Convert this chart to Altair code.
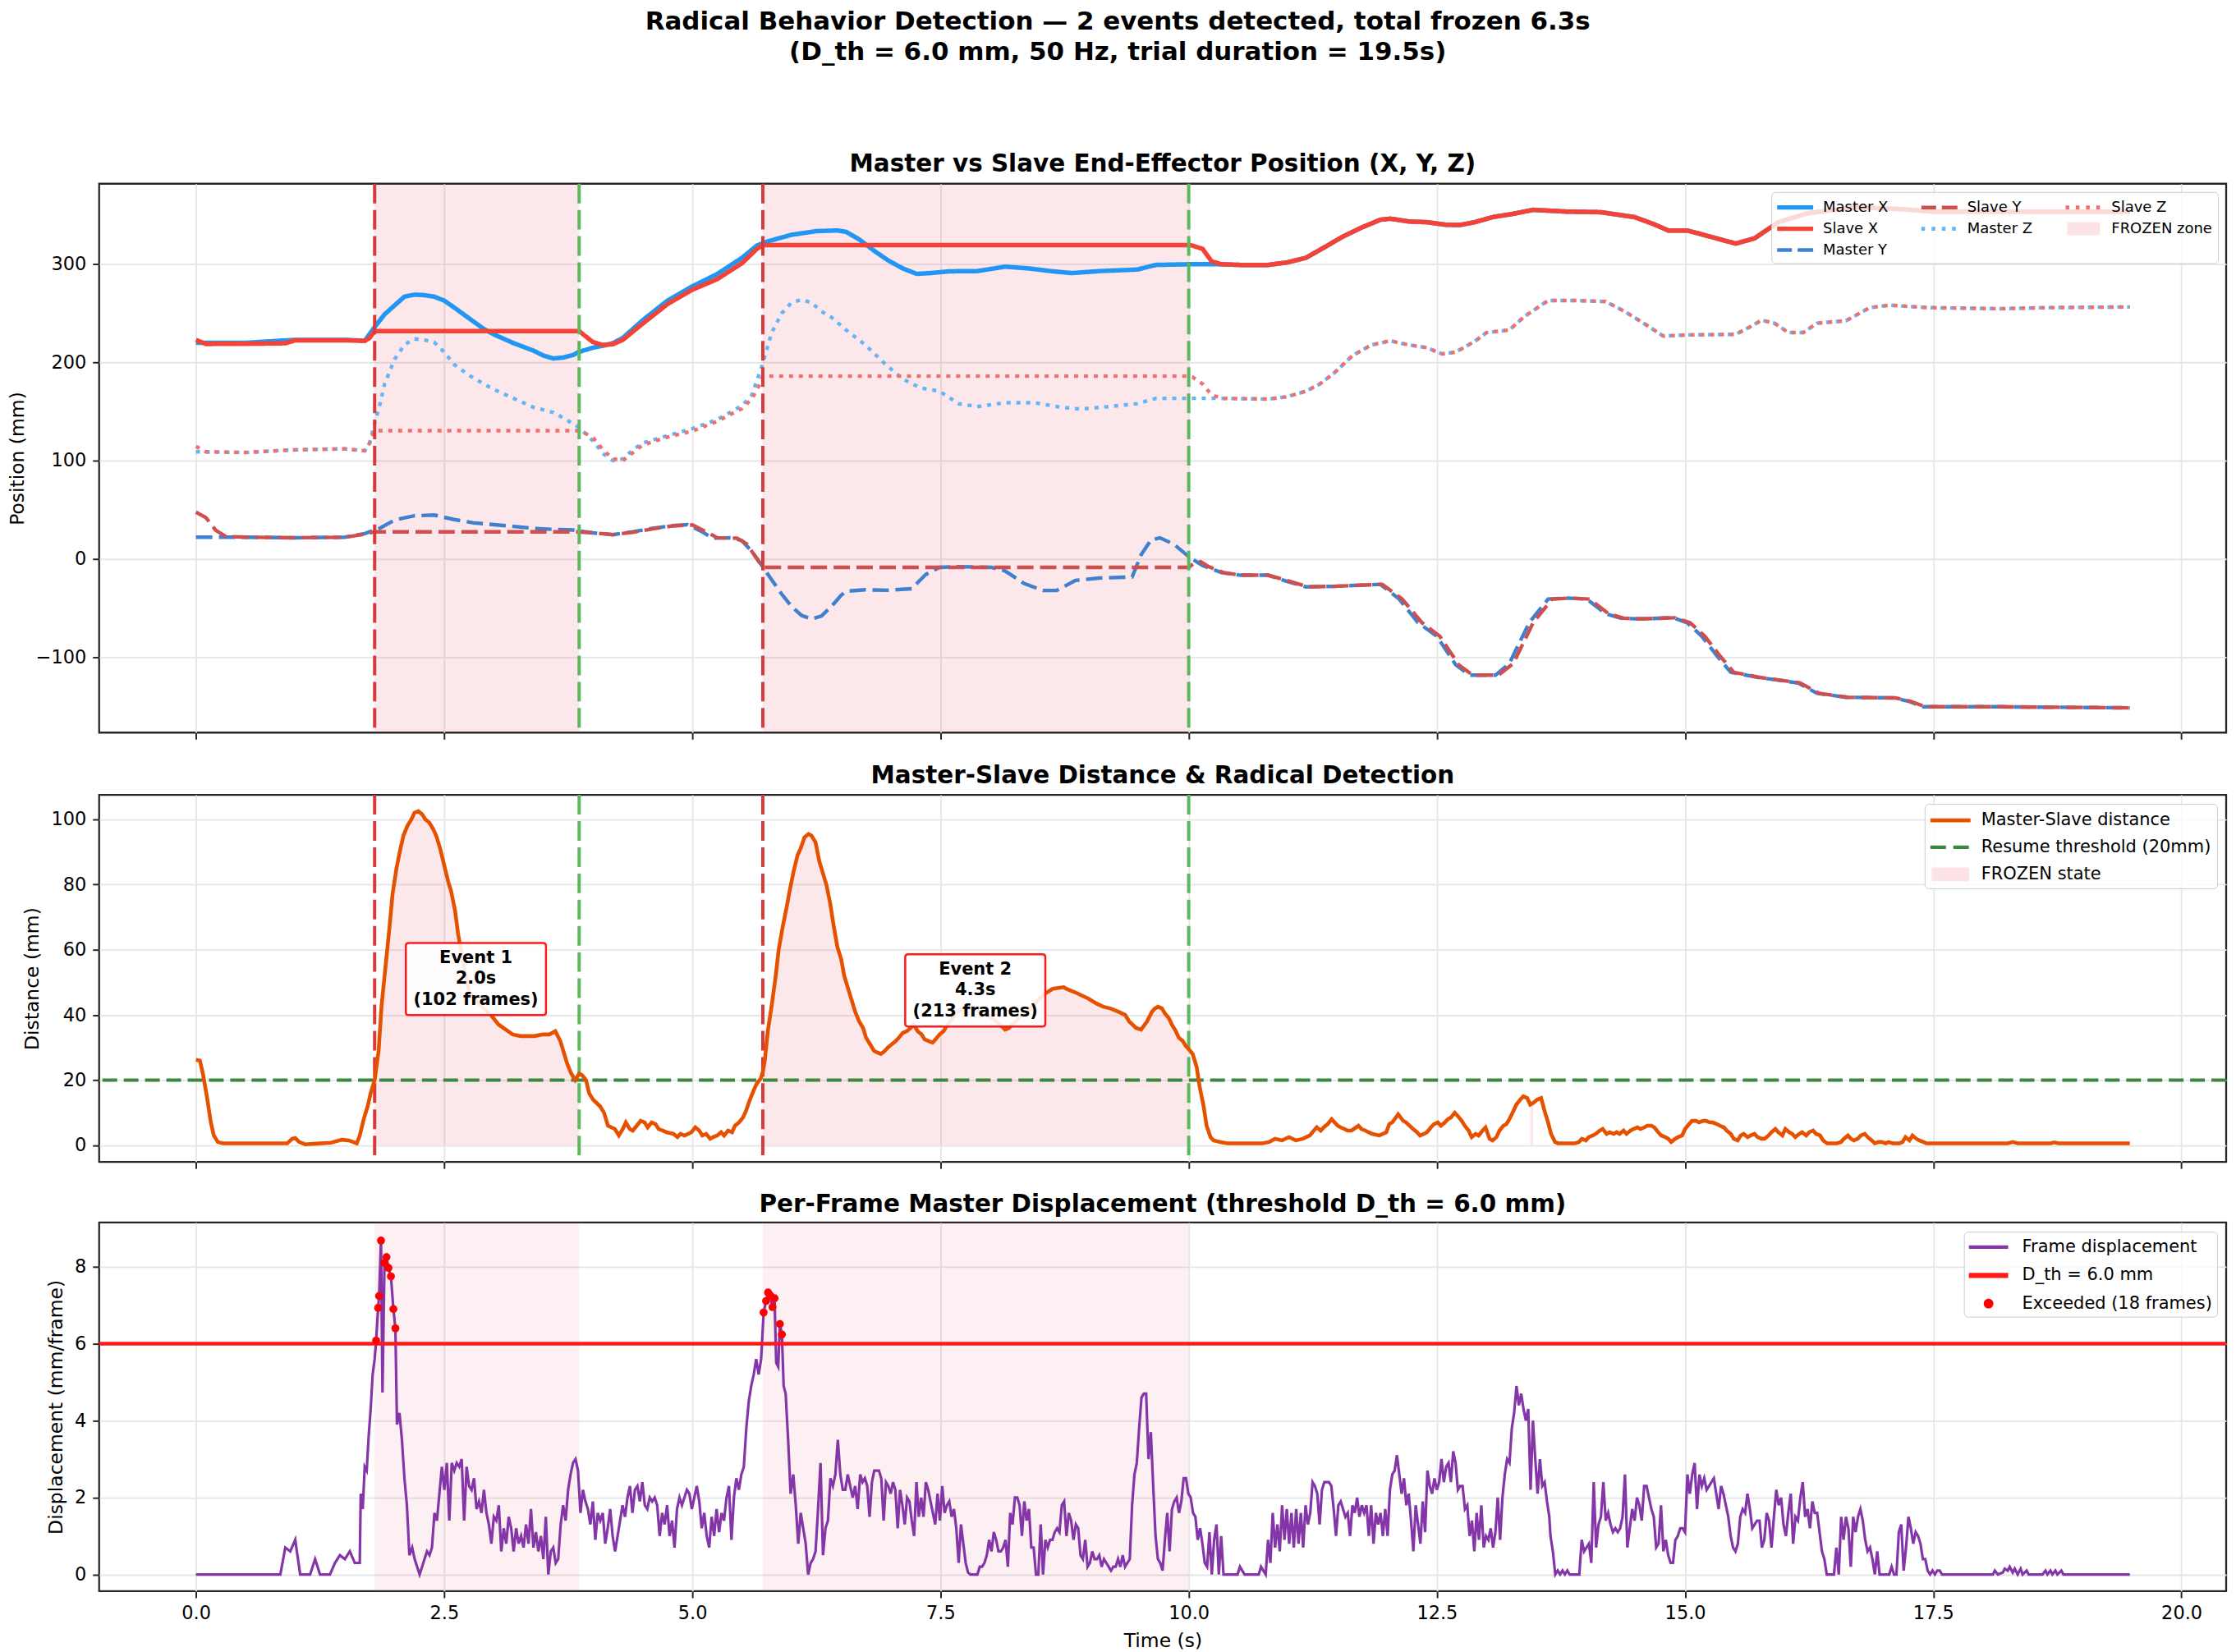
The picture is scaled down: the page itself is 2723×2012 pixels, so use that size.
import altair as alt
import pandas as pd

FONT = "DejaVu Sans"

MAIN_TITLE = ["Radical Behavior Detection \u2014 2 events detected, total frozen 6.3s",
              "(D_th = 6.0 mm, 50 Hz, trial duration = 19.5s)"]
TITLE_TOP = "Master vs Slave End-Effector Position (X, Y, Z)"
TITLE_MID = "Master-Slave Distance & Radical Detection"
TITLE_BOT = "Per-Frame Master Displacement (threshold D_th = 6.0 mm)"

X_TICKS = [0, 2.5, 5, 7.5, 10, 12.5, 15, 17.5, 20]
X_DOMAIN = [-0.975, 20.45]

EVENT_START = [1.80, 5.71]
EVENT_END = [3.86, 10.0]
MID_FROZEN_START = [1.80, 5.71, 13.44]
MID_FROZEN_END = [3.86, 10.0, 13.47]

RESUME_THRESHOLD = 20.0
D_TH = 6.0

EVENT_LABELS = ["Event 1\n2.0s\n(102 frames)", "Event 2\n4.3s\n(213 frames)"]
EVENT_LABEL_T = [2.82, 7.85]
EVENT_LABEL_V = [51.0, 47.5]

# ---------------- top panel: positions (t, mm) ----------------
MASTER_X = [(0, 220), (0.5, 220), (1.0, 223), (1.5, 223), (1.7, 222), (1.8, 236), (1.9, 249), (2.0, 258),
            (2.1, 267), (2.2, 269), (2.3, 268.5), (2.4, 267), (2.5, 263), (2.6, 256), (2.75, 245), (2.9, 234),
            (3.0, 228.6), (3.2, 219.6), (3.4, 212), (3.5, 207), (3.6, 204), (3.7, 205), (3.8, 207.6),
            (3.85, 210.5), (4.0, 215), (4.1, 217), (4.2, 219.6), (4.3, 225), (4.5, 243), (4.75, 263),
            (5.0, 277.5), (5.25, 290), (5.5, 306.5), (5.65, 319), (5.75, 323), (6.0, 330), (6.25, 333.7),
            (6.46, 334.4), (6.55, 333), (6.69, 324.6), (6.83, 313.8), (6.97, 304), (7.12, 295.7), (7.26, 290.2),
            (7.4, 291), (7.59, 292.8), (7.87, 293), (8.15, 297.5), (8.39, 295.7), (8.63, 292.8), (8.82, 291),
            (9.1, 293), (9.48, 294.6), (9.67, 299.3), (10.0, 300), (10.28, 300), (10.52, 299.3), (10.8, 299.3),
            (10.99, 301.8), (11.18, 306.5), (11.37, 317.4), (11.55, 328), (11.74, 337.3), (11.93, 345.3),
            (12.03, 346.4), (12.22, 343.5), (12.4, 342.8), (12.59, 340.2), (12.73, 339.9), (12.88, 342.8),
            (13.07, 348.2), (13.25, 351), (13.47, 355.4), (13.81, 353.6), (14.15, 353), (14.49, 348),
            (14.68, 341), (14.83, 334.4), (15.02, 334.4), (15.22, 329), (15.51, 321), (15.7, 326.4),
            (15.94, 342.8), (16.23, 351.8), (16.72, 358), (17.2, 356), (17.49, 353.6), (18.17, 353.6),
            (19.48, 353.6)]
SLAVE_X = [(0, 223), (0.1, 218.8), (0.5, 219), (0.9, 219.5), (1.0, 222.5), (1.5, 222.5), (1.7, 222),
           (1.75, 225), (1.8, 232), (3.86, 232), (3.9, 228.6), (4.0, 220.6), (4.1, 217.8), (4.2, 218.5),
           (4.3, 223), (4.5, 239.5), (4.75, 259.4), (5.0, 274), (5.25, 284.8), (5.5, 301), (5.65, 315.6),
           (5.71, 319.5), (10.02, 319.5), (10.14, 315.6), (10.23, 303), (10.33, 300), (10.52, 299.3),
           (10.8, 299.3), (10.99, 301.8), (11.18, 306.5), (11.37, 317.4), (11.55, 328), (11.74, 337.3),
           (11.93, 345.3), (12.03, 346.4), (12.22, 343.5), (12.4, 342.8), (12.59, 340.2), (12.73, 339.9),
           (12.88, 342.8), (13.07, 348.2), (13.25, 351), (13.47, 355.4), (13.81, 353.6), (14.15, 353),
           (14.49, 348), (14.68, 341), (14.83, 334.4), (15.02, 334.4), (15.22, 329), (15.51, 321),
           (15.7, 326.4), (15.94, 342.8), (16.23, 351.8), (16.72, 358), (17.2, 356), (17.49, 353.6),
           (18.17, 353.6), (19.48, 353.6)]
MASTER_Y = [(0, 22), (0.5, 22), (1.0, 21.4), (1.5, 22), (1.7, 25.7), (1.85, 31), (2.0, 39.5), (2.2, 43.8),
            (2.4, 44.6), (2.6, 40), (2.8, 36.6), (3.0, 34.8), (3.2, 33), (3.4, 31), (3.6, 30), (3.8, 29.3),
            (4.0, 26.4), (4.2, 24.6), (4.4, 27.5), (4.6, 31), (4.8, 33.7), (4.95, 34.8), (5.1, 27.5),
            (5.2, 21), (5.4, 21.4), (5.5, 18.5), (5.6, 7.6), (5.7, -6.9), (5.8, -21.4), (5.9, -35.9),
            (6.0, -48.6), (6.1, -57.6), (6.2, -61.2), (6.3, -58.3), (6.4, -48.6), (6.5, -37), (6.55, -33),
            (6.74, -31.5), (6.97, -32), (7.21, -30.4), (7.35, -16), (7.49, -8.7), (7.68, -8), (8.01, -8.7),
            (8.15, -12.3), (8.34, -25), (8.53, -32.2), (8.67, -32.2), (8.86, -22), (9.1, -19.6),
            (9.43, -18.5), (9.52, 4), (9.62, 19.2), (9.71, 21.4), (9.85, 14.9), (10.0, 2.2), (10.14, -6.9),
            (10.33, -14), (10.52, -16.7), (10.8, -16.7), (10.99, -23), (11.18, -28.6), (11.46, -28),
            (11.93, -26), (12.12, -41), (12.31, -65), (12.5, -79), (12.69, -108), (12.83, -118.5),
            (13.09, -118.5), (13.23, -106.5), (13.43, -65), (13.62, -41), (13.81, -40), (14.01, -41),
            (14.2, -56), (14.35, -60.5), (14.54, -61.2), (14.88, -60), (15.02, -65), (15.17, -79),
            (15.31, -97.5), (15.46, -115.6), (15.75, -121), (16.14, -126.4), (16.33, -137), (16.62, -141),
            (17.1, -141.7), (17.25, -145), (17.4, -150.7), (18.17, -150.7), (19.48, -151.8)]
SLAVE_Y = [(0, 47.5), (0.1, 42), (0.2, 29), (0.3, 22.8), (0.5, 22), (1.0, 21.4), (1.5, 22), (1.7, 25),
           (1.8, 27.5), (3.86, 27.5), (4.0, 26.4), (4.2, 24.6), (4.4, 27), (4.6, 30.5), (4.8, 33.5),
           (5.0, 34.5), (5.15, 27), (5.25, 21.5), (5.45, 21), (5.55, 15), (5.65, 0), (5.71, -8.7),
           (10.0, -8.7), (10.06, -4), (10.12, -3), (10.2, -8), (10.35, -14), (10.52, -16.7), (10.8, -16.7),
           (11.02, -23), (11.2, -28.6), (11.46, -28), (11.95, -26), (12.15, -41), (12.35, -65),
           (12.53, -79), (12.72, -108), (12.86, -118.5), (13.12, -118.5), (13.27, -106.5), (13.47, -65),
           (13.66, -41), (13.84, -40), (14.04, -41), (14.23, -56), (14.38, -60.5), (14.56, -61.2),
           (14.9, -60), (15.05, -65), (15.2, -79), (15.34, -97.5), (15.49, -115.6), (15.77, -121),
           (16.16, -126.4), (16.35, -137), (16.64, -141), (17.12, -141.7), (17.27, -145), (17.42, -150.7),
           (18.17, -150.7), (19.48, -151.8)]
MASTER_Z = [(0, 109), (0.5, 108.3), (1.0, 111), (1.5, 112), (1.7, 110), (1.75, 118), (1.8, 138),
            (1.85, 156), (1.9, 178), (2.0, 203), (2.1, 218), (2.2, 224), (2.3, 223), (2.4, 220.6),
            (2.5, 210.5), (2.6, 198), (2.75, 187), (2.9, 178), (3.0, 172.5), (3.2, 163.4), (3.4, 154.3),
            (3.6, 149), (3.7, 143.5), (3.85, 134.4), (4.0, 120), (4.1, 107.2), (4.2, 100), (4.3, 101.8),
            (4.4, 111), (4.5, 118), (4.75, 125.4), (5.0, 132.6), (5.25, 141.7), (5.5, 156), (5.6, 167),
            (5.7, 196), (5.8, 230.4), (5.9, 250), (6.0, 261), (6.1, 263.8), (6.2, 261), (6.3, 252),
            (6.4, 246), (6.55, 233), (6.74, 218), (6.93, 199.6), (7.12, 183), (7.3, 174), (7.49, 170.7),
            (7.68, 158), (7.87, 155), (8.15, 159), (8.44, 159), (8.72, 154.3), (8.91, 152.5), (9.19, 155),
            (9.48, 158), (9.67, 163.4), (10.0, 163.4), (10.33, 163.4), (10.8, 162.7), (10.99, 165),
            (11.18, 170.7), (11.32, 178), (11.46, 188.8), (11.65, 207), (11.84, 217.8), (12.03, 222),
            (12.22, 217.8), (12.4, 215), (12.55, 208.7), (12.69, 210.5), (12.88, 221.4), (13.0, 230.4),
            (13.23, 233), (13.38, 246.7), (13.62, 263), (13.91, 263), (14.2, 262), (14.39, 252),
            (14.59, 239.5), (14.78, 226.8), (15.02, 228), (15.51, 228.6), (15.65, 236), (15.77, 243),
            (15.9, 240), (16.04, 230.4), (16.19, 230.4), (16.33, 240), (16.62, 242.4), (16.86, 255.8),
            (17.06, 258.3), (17.44, 255.8), (18.17, 254.7), (18.65, 255.8), (19.48, 256.5)]
SLAVE_Z = [(0, 114.5), (0.1, 109), (0.5, 108.3), (1.0, 111), (1.5, 112), (1.7, 110), (1.75, 118),
           (1.8, 130.5), (3.86, 130.5), (3.9, 129), (4.0, 123.5), (4.1, 111), (4.2, 101.8), (4.3, 100),
           (4.4, 108), (4.5, 116), (4.75, 124), (5.0, 130), (5.25, 140), (5.5, 153), (5.6, 163),
           (5.68, 178), (5.71, 186), (10.0, 186), (10.04, 185), (10.14, 178), (10.23, 167), (10.33, 163.4),
           (10.8, 162.7), (10.99, 165), (11.18, 170.7), (11.32, 178), (11.46, 188.8), (11.65, 207),
           (11.84, 217.8), (12.03, 222), (12.22, 217.8), (12.4, 215), (12.55, 208.7), (12.69, 210.5),
           (12.88, 221.4), (13.0, 230.4), (13.23, 233), (13.38, 246.7), (13.62, 263), (13.91, 263),
           (14.2, 262), (14.39, 252), (14.59, 239.5), (14.78, 226.8), (15.02, 228), (15.51, 228.6),
           (15.65, 236), (15.77, 243), (15.9, 240), (16.04, 230.4), (16.19, 230.4), (16.33, 240),
           (16.62, 242.4), (16.86, 255.8), (17.06, 258.3), (17.44, 255.8), (18.17, 254.7), (18.65, 255.8),
           (19.48, 256.5)]

# ---------------- middle panel: master-slave distance (t, mm) ----------------
DISTANCE = [(0, 26.2), (0.04, 26), (0.07, 22), (0.11, 15), (0.15, 7), (0.18, 3), (0.22, 1), (0.27, 0.6),
            (0.5, 0.6), (0.92, 0.6), (0.97, 2.0), (1.0, 2.2), (1.04, 1.0), (1.1, 0.3), (1.21, 0.5),
            (1.36, 0.8), (1.47, 1.7), (1.54, 1.5), (1.62, 0.6), (1.65, 3), (1.69, 8), (1.73, 12), (1.76, 16),
            (1.8, 20), (1.84, 29), (1.87, 43), (1.91, 55), (1.95, 67), (1.98, 77), (2.02, 85), (2.06, 91),
            (2.09, 95), (2.13, 98), (2.17, 100), (2.2, 102), (2.24, 102.5), (2.28, 101.5), (2.31, 100),
            (2.35, 99), (2.39, 97), (2.42, 95), (2.46, 91), (2.5, 86), (2.54, 81), (2.57, 78), (2.61, 72),
            (2.64, 65), (2.68, 58), (2.72, 52), (2.75, 47), (2.83, 44), (2.9, 42), (2.97, 40), (3.05, 37),
            (3.12, 35.5), (3.19, 34), (3.27, 33.5), (3.34, 33.5), (3.41, 33.5), (3.49, 34), (3.56, 34),
            (3.62, 35), (3.67, 32), (3.71, 28), (3.74, 25), (3.78, 22), (3.82, 20), (3.86, 22),
            (3.89, 21.5), (3.93, 20), (3.96, 16), (4.0, 14), (4.07, 12), (4.11, 10), (4.15, 6), (4.22, 5),
            (4.26, 3), (4.3, 5), (4.33, 7), (4.37, 5), (4.4, 4.5), (4.44, 6), (4.48, 7.5), (4.52, 7),
            (4.55, 5.5), (4.59, 7), (4.63, 6.5), (4.66, 5), (4.7, 4.5), (4.74, 4), (4.81, 3.5), (4.85, 2.5),
            (4.88, 3.5), (4.92, 3), (4.96, 3.5), (4.99, 4), (5.03, 5.5), (5.07, 4.5), (5.1, 3), (5.14, 3.5),
            (5.18, 2), (5.21, 2.5), (5.25, 3), (5.29, 4), (5.32, 3), (5.36, 4.5), (5.4, 4), (5.43, 6),
            (5.47, 7), (5.51, 8.5), (5.54, 10.5), (5.58, 14), (5.62, 17), (5.65, 19), (5.69, 20.5),
            (5.71, 22.5), (5.73, 26), (5.76, 35), (5.8, 43), (5.84, 52), (5.87, 60), (5.91, 67), (5.95, 73),
            (5.98, 78), (6.02, 84), (6.06, 89), (6.09, 91), (6.13, 94.5), (6.17, 95.5), (6.2, 95),
            (6.24, 93), (6.28, 87), (6.31, 84), (6.35, 80), (6.39, 74), (6.42, 68), (6.46, 61), (6.5, 57),
            (6.53, 52), (6.57, 48), (6.61, 44), (6.64, 41), (6.68, 38), (6.72, 36), (6.75, 33), (6.79, 31),
            (6.83, 29), (6.86, 28.5), (6.9, 28), (6.94, 29), (6.97, 30), (7.01, 31), (7.05, 32), (7.08, 33),
            (7.12, 34.5), (7.16, 35), (7.2, 36), (7.23, 37), (7.27, 35), (7.31, 34), (7.34, 32.5), (7.38, 32),
            (7.42, 31.5), (7.45, 32.5), (7.49, 34), (7.53, 35), (7.56, 36.5), (7.6, 38), (7.64, 40),
            (7.67, 41), (7.75, 42), (7.82, 42), (7.89, 41), (7.97, 40), (8.04, 38.5), (8.1, 37), (8.15, 35.5),
            (8.19, 36), (8.26, 38), (8.33, 40.5), (8.41, 42), (8.48, 44.5), (8.55, 46.5), (8.63, 48),
            (8.74, 48.5), (8.77, 48), (8.85, 47), (8.92, 46), (8.99, 45), (9.07, 43.5), (9.14, 42.5),
            (9.21, 42), (9.29, 41), (9.36, 40), (9.4, 38), (9.47, 36), (9.52, 35.5), (9.58, 38), (9.63, 41),
            (9.66, 42), (9.69, 42.5), (9.73, 42), (9.76, 40.5), (9.8, 39), (9.83, 37), (9.87, 35), (9.9, 33),
            (9.94, 32), (9.97, 30.5), (10.0, 29.5), (10.04, 28), (10.08, 24), (10.11, 18), (10.15, 12),
            (10.18, 6), (10.22, 2.5), (10.25, 1.5), (10.32, 1), (10.39, 0.6), (10.74, 0.6), (10.81, 1.0),
            (10.87, 2.0), (10.94, 1.5), (11.01, 2.5), (11.08, 1.5), (11.15, 2.0), (11.22, 3.0), (11.26, 4.5),
            (11.29, 5.5), (11.33, 4.5), (11.36, 5.5), (11.4, 6.5), (11.44, 8), (11.5, 6), (11.53, 5.5),
            (11.57, 5), (11.6, 4.5), (11.64, 4.5), (11.71, 6), (11.74, 5), (11.78, 4.5), (11.81, 4),
            (11.85, 3.5), (11.92, 3), (11.99, 4), (12.02, 6.5), (12.05, 7), (12.11, 9.5), (12.16, 7.5),
            (12.19, 7), (12.26, 5), (12.3, 4), (12.33, 3), (12.37, 3.5), (12.4, 4), (12.44, 5.5),
            (12.47, 6.5), (12.51, 7), (12.54, 6), (12.58, 7), (12.61, 8), (12.64, 8.5), (12.68, 10),
            (12.71, 9), (12.75, 7.5), (12.78, 6), (12.82, 4.5), (12.85, 2.5), (12.89, 3.5), (12.92, 3),
            (12.96, 4.5), (12.99, 5.5), (13.03, 2), (13.06, 1.5), (13.1, 2.5), (13.13, 4.5), (13.17, 6),
            (13.2, 6.5), (13.23, 8), (13.27, 10.5), (13.3, 12.5), (13.34, 14), (13.37, 15), (13.41, 14.5),
            (13.44, 12.5), (13.47, 13), (13.51, 14), (13.55, 14.5), (13.58, 11), (13.62, 7), (13.65, 3.5),
            (13.69, 1), (13.72, 0.6), (13.89, 0.6), (13.93, 1), (13.96, 2), (14.0, 1.5), (14.03, 2.5),
            (14.07, 3), (14.1, 3.5), (14.14, 4.5), (14.17, 5), (14.21, 3.5), (14.24, 4), (14.28, 3.5),
            (14.31, 4), (14.34, 3.5), (14.38, 4.5), (14.41, 3.5), (14.45, 4.5), (14.48, 5), (14.52, 5.5),
            (14.55, 5), (14.59, 5.5), (14.62, 6), (14.66, 6), (14.69, 5.5), (14.73, 4), (14.76, 3),
            (14.8, 2.5), (14.83, 2), (14.86, 1), (14.9, 2), (14.93, 2.5), (14.97, 3), (15.0, 5), (15.04, 6.5),
            (15.07, 7.5), (15.11, 7.5), (15.14, 7), (15.18, 7.5), (15.21, 7.5), (15.25, 7), (15.28, 7),
            (15.32, 6.5), (15.35, 6), (15.39, 5.5), (15.42, 4.5), (15.46, 3.5), (15.49, 2), (15.53, 1.5),
            (15.56, 3), (15.59, 3.5), (15.63, 2.5), (15.66, 3), (15.7, 3.5), (15.73, 2.5), (15.77, 2),
            (15.8, 2), (15.84, 3), (15.87, 4), (15.91, 5), (15.94, 4), (15.98, 3), (16.01, 5), (16.05, 4),
            (16.08, 3.5), (16.11, 2.5), (16.15, 3.5), (16.18, 4), (16.22, 3), (16.25, 4), (16.29, 4.5),
            (16.32, 3.5), (16.36, 3), (16.39, 1.5), (16.43, 0.6), (16.53, 0.6), (16.57, 1), (16.6, 2),
            (16.64, 3), (16.67, 2), (16.7, 1.5), (16.74, 2), (16.77, 3), (16.81, 3.5), (16.84, 2.5),
            (16.88, 1.5), (16.91, 0.6), (16.95, 1), (16.98, 1), (17.02, 0.6), (17.05, 1), (17.09, 0.6),
            (17.16, 0.6), (17.19, 1), (17.22, 2.5), (17.26, 1.5), (17.29, 3), (17.33, 2), (17.36, 1.5),
            (17.4, 1), (17.43, 0.6), (18.25, 0.6), (18.3, 1.0), (18.35, 0.6), (18.68, 0.6), (18.72, 0.9),
            (18.76, 0.6), (19.48, 0.6)]

# ---------------- bottom panel: per-frame displacement (mm/frame) ----------------
DISP_A_START, DISP_A_STEP = 0.0, 0.05
DISP_A = [0, 0, 0, 0, 0, 0, 0, 0, 0, 0, 0, 0, 0, 0, 0, 0, 0, 0,
          0.7, 0.6, 0.9, 0.0, 0.0, 0.0, 0.4, 0.0, 0.0, 0.0, 0.3, 0.5, 0.4, 0.6, 0.3, 0.3]
DISP_PEAK1 = [(1.66, 2.1), (1.68, 1.7), (1.70, 2.8), (1.72, 2.7), (1.74, 3.6), (1.76, 4.3), (1.78, 5.2),
              (1.80, 5.6), (1.815, 6.08), (1.835, 6.93), (1.845, 7.24), (1.864, 8.68), (1.879, 4.73),
              (1.899, 8.1), (1.919, 8.25), (1.939, 7.97), (1.964, 7.75), (1.989, 6.9), (2.009, 6.4),
              (2.025, 3.9), (2.05, 4.2), (2.075, 3.5), (2.10, 2.5), (2.125, 1.8), (2.15, 0.5)]
DISP_C_START, DISP_C_STEP = 2.178, 0.02493
DISP_C = [0.7, 0.4, 0.2, 0.0, 0.2, 0.4, 0.6, 0.5, 0.7, 1.6,
          1.4, 2.1, 2.8, 2.2, 2.9, 1.4, 2.9, 2.7, 2.9, 2.8,
          3.0, 1.4, 2.8, 2.3, 2.2, 2.5, 1.7, 1.9, 1.6, 2.2,
          1.6, 1.3, 0.8, 1.5, 1.4, 1.8, 0.6, 1.2, 0.8, 1.5,
          1.2, 0.6, 1.2, 0.8, 1.0, 0.7, 1.3, 0.8, 1.7, 0.7,
          1.1, 0.6, 1.0, 0.4, 1.5, 0.0, 0.6, 0.7, 0.3, 0.4,
          1.3, 1.8, 1.4, 2.2, 2.6, 2.9, 3.0, 2.7, 1.6, 2.2,
          1.9, 1.7, 1.3, 1.9, 0.9, 1.6, 1.4, 1.6, 0.8, 1.2,
          1.7, 1.0, 0.6, 1.0, 1.4, 1.8, 1.5, 2.0, 2.3, 1.6,
          2.2, 2.3, 1.9, 2.4, 1.8, 1.7, 2.0, 1.9, 2.0, 1.8,
          1.0, 1.6, 1.3, 1.8, 1.0, 1.4, 0.7, 1.7, 2.0, 1.8,
          2.0, 2.2, 2.1, 1.7, 2.0, 2.3, 1.9, 1.2, 1.6, 1.0,
          0.7, 1.5, 1.0, 1.7, 1.1, 1.6, 1.4, 2.0, 2.3, 0.9,
          2.0, 2.5, 2.2, 2.6, 2.8, 3.8, 4.5, 4.9, 5.2, 5.6,
          5.2, 5.6]
DISP_PEAK2 = [(5.718, 6.81), (5.743, 7.11), (5.763, 7.33), (5.783, 7.26), (5.808, 6.95), (5.828, 7.18),
              (5.845, 5.5), (5.865, 5.4), (5.882, 6.51), (5.902, 6.24), (5.92, 4.9), (5.94, 4.7),
              (5.965, 3.5), (5.99, 2.1)]
DISP_E_START, DISP_E_STEP = 6.017, 0.02493
DISP_E = [2.6, 1.8, 0.8, 1.6, 1.2, 0.8, 0.0, 0.3, 0.4, 0.6,
          1.7, 2.9, 0.5, 1.2, 1.4, 2.5, 2.3, 2.6, 3.5, 2.6,
          2.2, 2.2, 2.6, 2.3, 2.0, 2.3, 1.7]
DISP_F_START, DISP_F_STEP = 6.691, 0.02361
DISP_F = [2.6, 2.4, 2.5, 2.3, 1.5, 2.4, 2.7, 2.7, 2.7, 2.5,
          1.4, 2.4, 2.3, 2.1, 2.4, 2.2, 1.2, 2.2, 1.8, 1.3,
          2.0, 1.9, 1.4, 1.0, 2.4, 1.5, 2.0, 1.5, 2.4, 2.2,
          1.9, 1.6, 1.3, 2.1, 1.4, 2.3, 1.6, 1.8, 1.9, 1.5,
          1.7, 1.2, 0.3, 1.3, 0.8, 0.3, 0.05, 0.0, 0.0, 0.0,
          0.0, 0.2, 0.2, 0.3, 0.5, 0.9, 0.6, 1.1, 0.9, 0.6,
          0.6, 0.7, 0.9, 0.2, 1.6, 1.3, 2.0, 2.0, 1.8, 1.0,
          1.9, 1.4, 1.7, 0.7, 0.7, 0.0, 0.0, 1.3, 0.0, 0.9,
          0.7, 0.9, 0.9, 1.1, 1.2, 1.1, 1.8, 1.9, 1.0, 1.6,
          1.4, 0.9, 1.3, 1.2, 0.5, 0.4, 0.9, 0.2, 0.3, 0.6,
          0.4, 0.4, 0.5, 0.2, 0.4, 0.3, 0.2, 0.1, 0.2, 0.2,
          0.4, 0.2, 0.5, 0.2, 0.3, 0.4, 1.8, 2.6, 2.9, 3.8,
          4.6, 4.7, 4.7, 3.0, 3.7, 2.3, 1.0, 0.4, 0.3, 0.1,
          0.9, 1.6, 0.6, 1.7, 1.9, 2.0, 1.6, 1.9, 2.5, 2.5,
          2.1, 2.0, 1.6, 1.5, 0.9, 1.2, 0.8, 0.3, 0.2, 1.1,
          0.0, 0.9, 1.3, 0.0, 1.0, 0.0, 0.0, 0.0, 0.0, 0.0,
          0.0, 0.0, 0.2, 0.1, 0.0, 0.0, 0.0, 0.0, 0.0, 0.0,
          0.0, 0.2, 0.1, 0.0, 0.9, 0.3, 1.6, 0.7, 1.3, 0.6,
          1.8, 0.9, 1.7, 0.8, 1.6, 0.7, 1.7, 0.8, 1.6, 0.7,
          1.8, 1.3, 1.6, 2.4, 2.3, 2.1, 1.3, 2.2, 2.4, 2.4,
          2.4, 2.3, 1.7, 1.0, 1.8, 1.9, 1.7, 1.5, 1.6, 1.0,
          1.8, 1.6, 2.0, 1.5, 1.8, 1.6, 1.8, 1.0, 1.8, 0.8,
          1.6, 1.3, 1.6, 1.0, 1.7, 1.0, 2.2, 2.6, 2.7, 3.1,
          2.6, 2.1, 2.5, 1.8, 2.1, 1.4, 0.6, 1.8, 1.3, 0.8,
          1.9, 1.1, 2.7, 2.3, 2.1, 2.5, 2.2, 2.4, 3.0, 2.4,
          2.8, 2.9, 2.4, 3.2, 2.9, 2.2, 2.3, 2.3, 1.7, 1.8,
          1.0, 1.4, 0.6, 1.6, 0.9, 1.8, 0.7, 1.0, 0.9, 1.2,
          0.7, 1.1, 2.0, 0.9, 2.0, 2.6, 3.0, 2.9, 3.8, 4.2,
          4.9, 4.4, 4.7, 4.3, 4.0, 4.3, 2.2, 4.0, 3.0, 2.1,
          3.0, 2.3, 2.4, 1.9, 1.5]
DISP_G_START, DISP_G_STEP = 13.644, 0.0242
DISP_G = [1.0, 0.6, 0.0, 0.1, 0.0, 0.1, 0.0, 0.1, 0.0, 0.0,
          0.0, 0.0, 0.0, 0.9, 0.6, 0.7, 0.8, 0.3, 2.4, 0.7,
          1.3, 1.5, 2.4, 1.4, 1.6, 1.3, 1.1, 1.2, 1.1, 1.2,
          1.5, 2.6, 0.7, 1.2, 1.7, 1.4, 2.0, 1.8, 1.4, 2.3,
          2.3, 2.0, 1.7, 1.5, 0.7, 0.8, 1.8, 0.6, 0.9, 0.5,
          0.3, 0.3, 0.9, 1.0, 1.2, 1.2, 1.1, 2.6, 2.1, 2.6,
          2.9, 1.7, 2.6, 2.3, 2.5, 2.2, 2.3, 2.4, 2.5, 2.1,
          1.7, 2.3, 2.1, 1.8, 1.5, 1.0, 0.7, 0.6, 0.8, 1.5,
          1.7, 1.6, 2.1, 1.7, 1.2, 1.3, 1.4, 1.4, 0.7, 0.9,
          1.6, 1.4, 0.7, 1.5, 2.2, 1.8, 2.0, 1.3, 1.0, 1.6,
          2.1, 0.8, 1.5, 1.4, 2.0, 2.4, 1.5, 1.7, 1.2, 1.9,
          1.6, 1.6, 1.1, 0.6, 0.4, 0.0, 0.0, 0.0, 0.0, 0.7,
          0.0, 1.5, 0.9, 1.5, 1.2, 0.2, 1.5, 1.1, 1.5, 1.7,
          1.4, 0.9, 0.6, 0.7, 0.4, 0.0, 0.6, 0.0, 0.0, 0.0,
          0.0, 0.0, 0.2, 0.0, 0.0, 1.1, 1.3, 0.1, 0.7, 1.5,
          1.2, 0.8, 1.1, 1.0, 0.8, 0.4, 0.4, 0.1, 0.0, 0.1,
          0.0, 0.1, 0.1, 0.0]
DISP_TAIL = [(17.62, 0), (18.1, 0), (18.12, 0.1), (18.15, 0), (18.2, 0.05), (18.22, 0.15), (18.25, 0.1),
             (18.27, 0.2), (18.3, 0.05), (18.32, 0.15), (18.35, 0), (18.38, 0.15), (18.4, 0), (18.44, 0.1),
             (18.46, 0), (18.6, 0), (18.63, 0.1), (18.65, 0), (18.68, 0.1), (18.7, 0), (18.73, 0.1),
             (18.75, 0), (18.79, 0.1), (18.81, 0), (19.48, 0)]

# ---------------- styles ----------------
C_MX, C_SX = "#2196F3", "#F44336"
C_MY, C_SY = "#3F81CF", "#CF4F4F"
C_MZ, C_SZ = "#64B5F6", "#F07070"
C_START, C_END = "#d63a3a", "#5cb85c"
C_FROZEN = "#e8384f"
C_PATCH = "#fde3e7"
C_DIST, C_THR = "#E65100", "#3a873d"
C_DISP, C_DTH = "#8436a8", "#ff1919"

W = 2596
H_TOP, H_MID, H_BOT = 670, 448, 450


def rect_px(x0, x1, hh, s):
    """legend symbol piece, in pixels from the entry's left edge, for a symbol of nominal size s*s"""
    u = s / 2.0
    a, b, h = (x0 - u) / u, (x1 - u) / u, hh / u
    return f"M{a:.3f},{-h:.3f}H{b:.3f}V{h:.3f}H{a:.3f}Z"


def dot_px(cx, r, s):
    u = s / 2.0
    c, rr = (cx - u) / u, r / u
    return f"M{c - rr:.3f},0A{rr:.3f},{rr:.3f} 0 1,0 {c + rr:.3f},0A{rr:.3f},{rr:.3f} 0 1,0 {c - rr:.3f},0Z"


S_TOP, S_MID, S_BOT = 24, 26, 26
SOLID_T = rect_px(0, 44, 2.7, S_TOP)
DASH_T = rect_px(0, 18, 2.3, S_TOP) + rect_px(25, 44, 2.3, S_TOP)
DOT_T = (rect_px(0, 4.5, 2.4, S_TOP) + rect_px(12.5, 17, 2.4, S_TOP) +
         rect_px(25, 29.5, 2.4, S_TOP) + rect_px(37.5, 42, 2.4, S_TOP))
PATCH_T = rect_px(2, 42, 8, S_TOP)
SOLID_M = rect_px(0, 49, 2.4, S_MID)
DASH_M = rect_px(0, 19, 2.1, S_MID) + rect_px(28, 47, 2.1, S_MID)
PATCH_M = rect_px(1.5, 47.5, 8.5, S_MID)
SOLID_B = rect_px(0, 48, 2.2, S_BOT)
THICK_B = rect_px(0, 48, 3.1, S_BOT)
DOT_B = dot_px(24, 5.9, S_BOT)
BOX_PATH = ("M-0.96,-0.515L0.96,-0.515Q1,-0.515 1,-0.475L1,0.475Q1,0.515 0.96,0.515"
            "L-0.96,0.515Q-1,0.515 -1,0.475L-1,-0.475Q-1,-0.515 -0.96,-0.515Z")

# ---------------- tables ----------------
def pairs_df(pairs):
    return pd.DataFrame(pairs, columns=["t", "v"])


def block(start, step, values):
    return [(round(start + i * step, 4), v) for i, v in enumerate(values)]


disp_rows = (block(DISP_A_START, DISP_A_STEP, DISP_A) + DISP_PEAK1 +
             block(DISP_C_START, DISP_C_STEP, DISP_C) + DISP_PEAK2 +
             block(DISP_E_START, DISP_E_STEP, DISP_E) + block(DISP_F_START, DISP_F_STEP, DISP_F) +
             block(DISP_G_START, DISP_G_STEP, DISP_G) + DISP_TAIL)
disp_df = pairs_df(disp_rows).sort_values("t")
exceed_df = disp_df[disp_df["v"] > D_TH]

dist_df = pairs_df(DISTANCE)
area_rows = []
for k, (s, e) in enumerate(zip(MID_FROZEN_START, MID_FROZEN_END)):
    for t, v in DISTANCE:
        if s <= t <= e:
            area_rows.append({"t": t, "v": v, "ev": k})
area_df = pd.DataFrame(area_rows)

events_df = pd.DataFrame({"start": EVENT_START, "end": EVENT_END})
starts_df = pd.DataFrame({"t": EVENT_START})
ends_df = pd.DataFrame({"t": EVENT_END})
labels_df = pd.DataFrame({"t": EVENT_LABEL_T, "v": EVENT_LABEL_V, "label": EVENT_LABELS})

x_scale = alt.Scale(domain=X_DOMAIN, nice=False, zero=False)


def xenc(field, labels, title=None):
    return alt.X(field, scale=x_scale, title=title,
                 axis=alt.Axis(values=X_TICKS, format=".1f", labels=labels, grid=True))


def yenc(domain, values, title):
    return alt.Y("v:Q", scale=alt.Scale(domain=domain, nice=False, zero=False), title=title,
                 axis=alt.Axis(values=values, format="d", grid=True))


def legend_layer(field, names, colors, shapes, sym, **legend_kwargs):
    size = sym * sym
    leg = alt.Legend(title=None, labelFont=FONT, labelColor="#000000", symbolSize=size,
                     symbolStrokeWidth=0, fillColor="rgba(255,255,255,0.8)", strokeColor="#cccccc",
                     cornerRadius=5, labelLimit=0, **legend_kwargs)
    df = pd.DataFrame({field: names})
    return alt.Chart(df).transform_filter("false").mark_point(
        filled=True, opacity=1, size=size, strokeWidth=0).encode(
        color=alt.Color(f"{field}:N", scale=alt.Scale(domain=names, range=colors), legend=leg),
        shape=alt.Shape(f"{field}:N", scale=alt.Scale(domain=names, range=shapes), legend=leg),
    )


def sub_title(text):
    return alt.TitleParams(text=text, font=FONT, fontSize=29.5, fontWeight="bold", color="#000000",
                           anchor="middle", frame="group", offset=6)


# ---------------- top panel ----------------
TOP_Y = [-177, 382]
TOP_TICKS = [-100, 0, 100, 200, 300]


def top_line(pairs, color, width, dash):
    return alt.Chart(pairs_df(pairs)).mark_line(color=color, strokeWidth=width, strokeDash=dash).encode(
        x=xenc("t:Q", False), y=yenc(TOP_Y, TOP_TICKS, "Position (mm)"))


top_frozen = alt.Chart(events_df).mark_rect(color=C_FROZEN, opacity=0.12).encode(
    x=xenc("start:Q", False), x2="end:Q")
top_starts = alt.Chart(starts_df).mark_rule(color=C_START, strokeWidth=4, strokeDash=[24, 8]).encode(
    x=xenc("t:Q", False))
top_ends = alt.Chart(ends_df).mark_rule(color=C_END, strokeWidth=4, strokeDash=[24, 8]).encode(
    x=xenc("t:Q", False))

# the legend grid is filled column by column (3 rows); this order gives the rows
# (Master X, Slave Y, Slave Z), (Slave X, Master Z, FROZEN zone), (Master Y)
TOP_LEG_NAMES = ["Master X", "Slave X", "FROZEN zone", "Slave Y", "Master Z", "Master Y", "Slave Z"]
TOP_LEG_COLORS = [C_MX, C_SX, C_PATCH, C_SY, C_MZ, C_MY, C_SZ]
TOP_LEG_SHAPES = [SOLID_T, SOLID_T, PATCH_T, DASH_T, DOT_T, DASH_T, DOT_T]

top = alt.layer(
    top_frozen,
    top_line(MASTER_X, C_MX, 5.5, [1, 0]),
    top_line(SLAVE_X, C_SX, 5.5, [1, 0]),
    top_line(MASTER_Y, C_MY, 4.4, [20, 8]),
    top_line(SLAVE_Y, C_SY, 4.4, [20, 8]),
    top_line(MASTER_Z, C_MZ, 4.4, [5, 7]),
    top_line(SLAVE_Z, C_SZ, 4.4, [5, 7]),
    top_starts, top_ends,
    legend_layer("top_series", TOP_LEG_NAMES, TOP_LEG_COLORS, TOP_LEG_SHAPES, S_TOP,
                 orient="top-right", offset=10, columns=3, labelFontSize=18, padding=7,
                 rowPadding=5, columnPadding=40, labelOffset=44 + 12 - S_TOP),
).properties(width=W, height=H_TOP, title=sub_title(TITLE_TOP))

# ---------------- middle panel ----------------
MID_Y = [-5.1, 107.5]
MID_TICKS = [0, 20, 40, 60, 80, 100]
mid_y = yenc(MID_Y, MID_TICKS, "Distance (mm)")

mid_area = alt.Chart(area_df).mark_area(color=C_FROZEN, opacity=0.12).encode(
    x=xenc("t:Q", False), y=mid_y, y2=alt.datum(0), detail="ev:N")
mid_thr = alt.Chart(pd.DataFrame({"v": [RESUME_THRESHOLD]})).mark_rule(
    color=C_THR, strokeWidth=4, strokeDash=[18, 8]).encode(y=mid_y)
mid_starts = alt.Chart(starts_df).mark_rule(color=C_START, strokeWidth=4, strokeDash=[24, 8]).encode(
    x=xenc("t:Q", False))
mid_ends = alt.Chart(ends_df).mark_rule(color=C_END, strokeWidth=4, strokeDash=[24, 8]).encode(
    x=xenc("t:Q", False))
mid_line = alt.Chart(dist_df).mark_line(color=C_DIST, strokeWidth=4.6).encode(
    x=xenc("t:Q", False), y=mid_y)
mid_boxes = alt.Chart(labels_df).mark_point(
    shape=BOX_PATH, size=171 * 171, filled=True, fill="white", fillOpacity=0.88,
    stroke="#ff1a1a", strokeWidth=2.5, opacity=1).encode(x=xenc("t:Q", False), y=mid_y)
mid_text = alt.Chart(labels_df).mark_text(
    font=FONT, fontSize=21, fontWeight="bold", lineBreak="\n", lineHeight=25.8, dy=-25.8,
    align="center", baseline="middle", color="#000000").encode(
    x=xenc("t:Q", False), y=mid_y, text="label:N")

MID_LEG_NAMES = ["Master-Slave distance", "Resume threshold (20mm)", "FROZEN state"]
MID_LEG_COLORS = [C_DIST, C_THR, C_PATCH]
MID_LEG_SHAPES = [SOLID_M, DASH_M, PATCH_M]

mid = alt.layer(
    mid_area, mid_thr, mid_starts, mid_ends, mid_line, mid_boxes, mid_text,
    legend_layer("mid_series", MID_LEG_NAMES, MID_LEG_COLORS, MID_LEG_SHAPES, S_MID,
                 orient="top-right", offset=11, columns=1, labelFontSize=21, padding=7,
                 rowPadding=10, labelOffset=49 + 13 - S_MID),
).properties(width=W, height=H_MID, title=sub_title(TITLE_MID))

# ---------------- bottom panel ----------------
BOT_Y = [-0.435, 9.15]
BOT_TICKS = [0, 2, 4, 6, 8]
bot_y = yenc(BOT_Y, BOT_TICKS, "Displacement (mm/frame)")

bot_frozen = alt.Chart(events_df).mark_rect(color=C_FROZEN, opacity=0.075).encode(
    x=xenc("start:Q", True, "Time (s)"), x2="end:Q")
bot_line = alt.Chart(disp_df).mark_line(color=C_DISP, strokeWidth=3.2).encode(
    x=xenc("t:Q", True, "Time (s)"), y=bot_y)
bot_dth = alt.Chart(pd.DataFrame({"v": [D_TH]})).mark_rule(color=C_DTH, strokeWidth=4.5).encode(y=bot_y)
bot_pts = alt.Chart(exceed_df).mark_point(filled=True, color="#ff0000", size=95, opacity=1).encode(
    x=xenc("t:Q", True, "Time (s)"), y=bot_y)

BOT_LEG_NAMES = ["Frame displacement", "D_th = 6.0 mm", "Exceeded (18 frames)"]
BOT_LEG_COLORS = [C_DISP, C_DTH, "#ff0000"]
BOT_LEG_SHAPES = [SOLID_B, THICK_B, DOT_B]

bot = alt.layer(
    bot_frozen, bot_line, bot_dth, bot_pts,
    legend_layer("bot_series", BOT_LEG_NAMES, BOT_LEG_COLORS, BOT_LEG_SHAPES, S_BOT,
                 orient="top-right", offset=11, columns=1, labelFontSize=21, padding=6,
                 rowPadding=11.5, labelOffset=48 + 17 - S_BOT),
).properties(width=W, height=H_BOT, title=sub_title(TITLE_BOT))

chart = alt.vconcat(top, mid, bot, spacing=25, padding=0).resolve_scale(
    color="independent", shape="independent").properties(
    title=alt.TitleParams(text=MAIN_TITLE, font=FONT, fontSize=31, fontWeight="bold", color="#000000",
                          anchor="middle", lineHeight=38, offset=104),
    background="white",
).configure_axis(
    labelFont=FONT, titleFont=FONT, labelFontSize=22.5, titleFontSize=23.5, titleFontWeight="normal",
    labelColor="#000000", titleColor="#000000", gridColor="#e6e6e6", gridWidth=1.8,
    tickColor="#262626", tickWidth=2, tickSize=8, domain=False, labelPadding=8, titlePadding=10,
).configure_view(stroke="#262626", strokeWidth=2.3)

chart.save("out.html", embed_options={"renderer": "svg", "actions": False})
